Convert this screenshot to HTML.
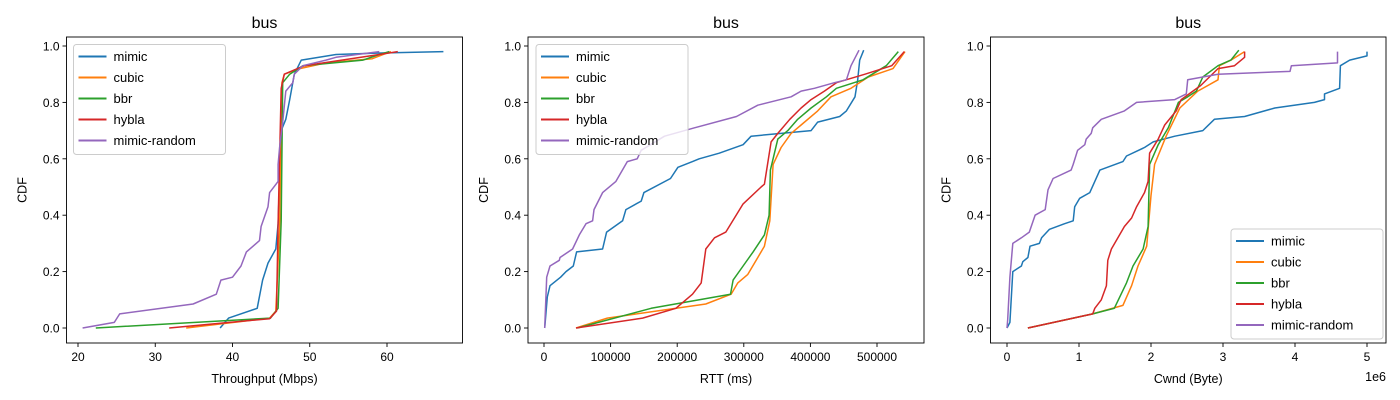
<!DOCTYPE html>
<html><head><meta charset="utf-8"><style>
body{margin:0;background:#fff;}
svg{display:block;font-family:"Liberation Sans","DejaVu Sans",sans-serif;}
</style></head><body>
<svg id="c" width="1400" height="400" viewBox="0 0 1400 400"></svg>
<script>
const seriesNames=["mimic","cubic","bbr","hybla","mimic-random"];
const colors=["#1f77b4","#ff7f0e","#2ca02c","#d62728","#9467bd"];
const yTicks=[0,0.2,0.4,0.6,0.8,1.0];
const yTickLabels=["0.0","0.2","0.4","0.6","0.8","1.0"];
// Panel 1: throughput (Mbps)
const tpTicks=[20,30,40,50,60];
const tpMimicX=[38.4,39.5,43.2,43.9,44.6,45.6,45.9,46.3,46.9,47.4,48.0,48.9,53.4,58.6,67.3];
const tpMimicY=[0,0.035,0.07,0.17,0.23,0.28,0.37,0.70,0.74,0.81,0.90,0.95,0.97,0.975,0.98];
const tpCubicX=[34.0,44.8,45.6,46.1,46.4,46.7,48.7,52.1,58.1,60.5];
const tpCubicY=[0,0.035,0.06,0.35,0.87,0.90,0.92,0.94,0.955,0.98];
const tpBbrX=[22.3,44.9,45.9,46.3,46.5,47.4,49.1,56.9,59.0,60.3];
const tpBbrY=[0,0.035,0.07,0.38,0.87,0.90,0.93,0.95,0.97,0.98];
const tpHyblaX=[31.8,44.8,45.7,45.9,46.3,46.7,49.3,59.0,61.4];
const tpHyblaY=[0,0.033,0.06,0.37,0.85,0.90,0.93,0.97,0.98];
const tpRandX=[20.6,24.7,25.4,34.9,37.9,38.5,40.0,41.1,41.8,43.5,43.7,44.6,44.8,45.9,45.9,46.1,46.5,46.9,47.8,48.0,49.1,52.1,53.4,59.0];
const tpRandY=[0,0.02,0.05,0.085,0.12,0.17,0.18,0.22,0.27,0.31,0.36,0.43,0.48,0.52,0.58,0.64,0.73,0.84,0.87,0.90,0.93,0.95,0.96,0.98];
// Panel 2: RTT (thousands of ms)
const rttTicks=[0,100,200,300,400,500];
const rttMimicX=[1,5,9,25,33,44,49,88,94,118,123,146,150,190,201,223,233,263,299,311,401,411,444,454,467,471,474,480];
const rttMimicY=[0,0.11,0.15,0.18,0.20,0.22,0.27,0.28,0.34,0.38,0.42,0.45,0.48,0.53,0.57,0.59,0.60,0.62,0.65,0.68,0.70,0.73,0.75,0.77,0.82,0.88,0.95,0.985];
const rttCubicX=[48,95,243,281,291,306,321,331,339,344,356,371,386,411,431,461,487,524,542];
const rttCubicY=[0,0.035,0.085,0.12,0.16,0.19,0.25,0.29,0.38,0.58,0.64,0.69,0.72,0.77,0.82,0.85,0.89,0.92,0.98];
const rttBbrX=[50,161,280,284,299,314,331,338,340,351,366,381,401,424,439,479,514,532];
const rttBbrY=[0,0.07,0.12,0.17,0.22,0.27,0.33,0.40,0.56,0.67,0.70,0.74,0.78,0.82,0.85,0.88,0.93,0.98];
const rttHyblaX=[48,148,198,223,236,243,256,273,299,326,331,341,351,369,386,401,421,439,482,522,541];
const rttHyblaY=[0,0.035,0.07,0.12,0.16,0.28,0.32,0.34,0.44,0.50,0.51,0.66,0.69,0.74,0.78,0.81,0.84,0.87,0.90,0.93,0.98];
const rttRandX=[1,4,9,23,24,43,53,63,73,75,88,108,125,140,146,181,226,289,321,371,386,406,436,454,461,473];
const rttRandY=[0,0.18,0.22,0.24,0.25,0.28,0.33,0.37,0.38,0.42,0.48,0.52,0.59,0.60,0.63,0.68,0.71,0.75,0.79,0.82,0.84,0.85,0.87,0.88,0.93,0.985];
// Panel 3: Cwnd (1e6 bytes)
const cwTicks=[0,1,2,3,4,5];
const cwMimicX=[0,0.04,0.08,0.2,0.22,0.29,0.32,0.45,0.48,0.59,0.80,0.92,0.94,1.01,1.15,1.22,1.29,1.61,1.66,1.91,2.03,2.33,2.72,2.88,3.30,3.72,4.27,4.41,4.41,4.62,4.63,4.76,5.0,5.0];
const cwMimicY=[0,0.02,0.20,0.22,0.235,0.25,0.29,0.30,0.32,0.35,0.37,0.38,0.43,0.46,0.48,0.52,0.56,0.59,0.61,0.64,0.66,0.68,0.70,0.74,0.75,0.78,0.80,0.81,0.83,0.85,0.93,0.95,0.965,0.98];
const cwCubicX=[0.29,1.19,1.61,1.73,1.82,1.94,2.0,2.05,2.21,2.40,2.65,2.93,2.95,3.11,3.30];
const cwCubicY=[0,0.05,0.08,0.15,0.22,0.29,0.47,0.58,0.68,0.78,0.84,0.88,0.93,0.95,0.98];
const cwBbrX=[0.29,1.19,1.49,1.66,1.75,1.89,1.96,1.98,2.10,2.24,2.35,2.38,2.51,2.63,2.72,2.93,3.11,3.22];
const cwBbrY=[0,0.05,0.07,0.16,0.22,0.28,0.36,0.58,0.65,0.71,0.78,0.80,0.82,0.84,0.89,0.93,0.95,0.985];
const cwHyblaX=[0.29,1.19,1.22,1.31,1.38,1.40,1.45,1.54,1.63,1.73,1.80,1.91,1.96,1.98,2.10,2.19,2.35,2.42,2.69,2.93,3.16,3.30,3.30];
const cwHyblaY=[0,0.05,0.07,0.10,0.15,0.24,0.28,0.32,0.36,0.39,0.43,0.48,0.52,0.62,0.67,0.72,0.77,0.81,0.86,0.92,0.93,0.96,0.98];
const cwRandX=[0,0.01,0.04,0.08,0.20,0.31,0.39,0.53,0.57,0.64,0.89,0.92,0.98,1.08,1.10,1.17,1.19,1.31,1.63,1.80,2.33,2.49,2.51,2.93,3.93,3.95,4.59,4.59];
const cwRandY=[0,0.03,0.18,0.30,0.32,0.34,0.40,0.42,0.49,0.53,0.56,0.58,0.63,0.65,0.67,0.69,0.71,0.74,0.77,0.80,0.81,0.83,0.88,0.90,0.91,0.93,0.94,0.98];

const NS="http://www.w3.org/2000/svg";
const svg=document.getElementById('c');
function mk(tag,attrs,parent){const e=document.createElementNS(NS,tag);for(const k in attrs)e.setAttribute(k,attrs[k]);(parent||svg).appendChild(e);return e;}
const Y0=328,Y1=46,TOP=37,BOT=343;
function yScale(v){return Y0+(Y1-Y0)*v;}
const panels=[
 {left:66.5,right:462.5,t0:20,p0:78,t1:60,p1:387,ticks:tpTicks,tickLab:tpTicks.map(String),xlabel:"Throughput (Mbps)",
  xs:[tpMimicX,tpCubicX,tpBbrX,tpHyblaX,tpRandX],ys:[tpMimicY,tpCubicY,tpBbrY,tpHyblaY,tpRandY],leg:[73.5,44.5],name:"throughput"},
 {left:528,right:924,t0:0,p0:544,t1:500,p1:877,ticks:rttTicks,tickLab:rttTicks.map(t=>String(t*1000)),xlabel:"RTT (ms)",
  xs:[rttMimicX,rttCubicX,rttBbrX,rttHyblaX,rttRandX],ys:[rttMimicY,rttCubicY,rttBbrY,rttHyblaY,rttRandY],leg:[536,44.5],name:"rtt"},
 {left:990.5,right:1386,t0:0,p0:1007,t1:5,p1:1367,ticks:cwTicks,tickLab:cwTicks.map(String),xlabel:"Cwnd (Byte)",
  xs:[cwMimicX,cwCubicX,cwBbrX,cwHyblaX,cwRandX],ys:[cwMimicY,cwCubicY,cwBbrY,cwHyblaY,cwRandY],leg:[1231,229],name:"cwnd"}
];
panels.forEach((p,pi)=>{
 const g=mk('g',{});
 
 
 const xs=v=>p.p0+(v-p.t0)*(p.p1-p.p0)/(p.t1-p.t0);
 const cx=(p.left+p.right)/2;
 const title=mk('text',{x:cx,y:28,'text-anchor':'middle','font-size':16,fill:'#000'},g);title.textContent='bus';
 
 
 // series
 p.xs.forEach((arr,si)=>{
  const pts=arr.map((v,i)=>xs(v).toFixed(1)+','+yScale(p.ys[si][i]).toFixed(1)).join(' ');
  const pl=mk('polyline',{points:pts,fill:'none',stroke:colors[si],'stroke-width':1.5,'stroke-linejoin':'round'},g);
  
  
 });
 const fr=mk('rect',{x:p.left,y:TOP,width:p.right-p.left,height:BOT-TOP,fill:'none',stroke:'#000','stroke-width':0.9},g);
 
 
 p.ticks.forEach((t,i)=>{
  const x=xs(t);
  mk('line',{x1:x,x2:x,y1:BOT,y2:BOT+4,stroke:'#000','stroke-width':0.9},g);
  const tl=mk('text',{x:x,y:BOT+18,'text-anchor':'middle','font-size':12,fill:'#000'},g);tl.textContent=p.tickLab[i];
  
  
 });
 yTicks.forEach((t,i)=>{
  const y=yScale(t);
  mk('line',{x1:p.left-4,x2:p.left,y1:y,y2:y,stroke:'#000','stroke-width':0.9},g);
  const tl=mk('text',{x:p.left-7,y:y+4.5,'text-anchor':'end','font-size':12,fill:'#000'},g);tl.textContent=yTickLabels[i];
  
  
 });
 const xl=mk('text',{x:cx,y:383,'text-anchor':'middle','font-size':12.5,fill:'#000'},g);xl.textContent=p.xlabel;
 
 
 const yl=mk('text',{x:0,y:0,'text-anchor':'middle','font-size':12.5,fill:'#000',transform:`translate(${p.left-40},${(TOP+BOT)/2}) rotate(-90)`},g);yl.textContent='CDF';
 
 
 if(pi===2){const e=mk('text',{x:p.right,y:381,'text-anchor':'end','font-size':12.5,fill:'#000'},g);e.textContent='1e6';
  
  }
 // legend
 const lg=mk('g',{},g);
 
 
 const [lx,ly]=p.leg;
 mk('rect',{x:lx,y:ly,width:152,height:110,rx:3,fill:'#fff','fill-opacity':0.8,stroke:'#ccc','stroke-width':1},lg);
 seriesNames.forEach((n,si)=>{
  const y=ly+12+si*21;
  const e=mk('g',{},lg);
  
  
  mk('line',{x1:lx+5,x2:lx+33,y1:y,y2:y,stroke:colors[si],'stroke-width':2},e);
  const t=mk('text',{x:lx+40,y:y+4.5,'font-size':13,fill:'#000'},e);t.textContent=n;
 });
});
</script>
</body></html>
